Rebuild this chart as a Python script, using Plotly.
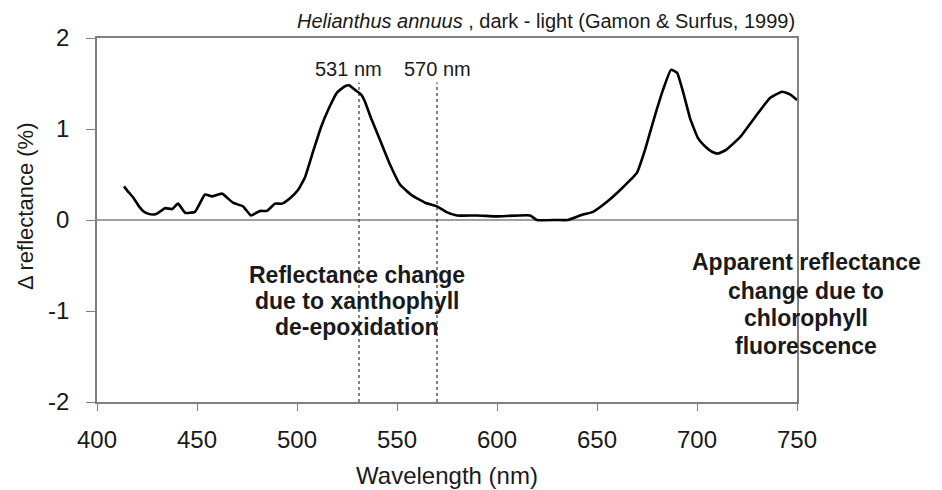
import plotly.graph_objects as go

wavelength = [413.5, 416, 418, 421, 423, 425.5, 428.5, 430, 434, 437.5, 440.5, 444, 449, 454, 457.5,
              462.5, 468, 473, 477, 481.5, 485, 489, 492.5, 496.5, 500.5, 504, 508, 512, 516, 520,
              524, 526, 529, 532, 534, 537, 541.5, 546.5, 551.5, 557.5, 564, 570, 574.5, 580, 590,
              600, 616.5, 620, 630, 635.5, 643, 648, 655, 663, 670, 674, 679, 683, 687, 690, 693.5,
              696.5, 700.5, 704.5, 707.5, 710.5, 714.5, 721.5, 729, 736.5, 742.5, 746.5, 750]
delta_refl = [0.37, 0.30, 0.25, 0.15, 0.10, 0.07, 0.06, 0.07, 0.13, 0.12, 0.18, 0.08, 0.09, 0.28, 0.26,
              0.29, 0.19, 0.15, 0.05, 0.10, 0.10, 0.18, 0.18, 0.24, 0.33, 0.47, 0.75, 1.02, 1.23, 1.40,
              1.47, 1.48, 1.43, 1.38, 1.30, 1.12, 0.88, 0.61, 0.39, 0.27, 0.19, 0.15, 0.09, 0.05, 0.05,
              0.04, 0.05, 0.0, 0.0, 0.0, 0.06, 0.09, 0.20, 0.36, 0.52, 0.77, 1.15, 1.43, 1.65, 1.62, 1.37,
              1.12, 0.90, 0.80, 0.75, 0.73, 0.77, 0.91, 1.13, 1.34, 1.41, 1.38, 1.32]

marker_wl = [531, 570]
marker_labels = ["531 nm", "570 nm"]
x_ticks = [400, 450, 500, 550, 600, 650, 700, 750]
y_ticks = [-2, -1, 0, 1, 2]
y_ticktext = ["-2", "-1", "0", "1", "2"]
left_note = ["Reflectance change", "due to xanthophyll", "de-epoxidation"]
right_note = ["Apparent reflectance", "change due to", "chlorophyll", "fluorescence"]

FONT = "Liberation Sans, Arial, sans-serif"
TXT = "#1a1a1a"

fig = go.Figure()

for wl in marker_wl:
    fig.add_trace(go.Scatter(x=[wl, wl], y=[-2, 1.51], mode="lines",
                             line=dict(color="#333333", width=1.2, dash="3px,3px"),
                             showlegend=False, hoverinfo="skip"))

fig.add_trace(go.Scatter(x=wavelength, y=delta_refl, mode="lines",
                         line=dict(color="black", width=2.6, shape="spline", smoothing=0.4),
                         showlegend=False))

fig.add_hline(y=0, line=dict(color="#808080", width=1.5), layer="below")

annotations = []
label_x = [525.5, 570]
for lx, lab in zip(label_x, marker_labels):
    annotations.append(dict(x=lx, y=1.66, xref="x", yref="y", text=lab, showarrow=False,
                            xanchor="center", font=dict(family=FONT, size=20, color=TXT)))

left_y = [-0.60, -0.89, -1.18]
for t, yy in zip(left_note, left_y):
    annotations.append(dict(x=(530 - 400) / 350, y=yy, xref="paper", yref="y", text="<b>%s</b>" % t,
                            xanchor="center", showarrow=False, font=dict(family=FONT, size=23, color=TXT)))
right_y = [-0.46, -0.78, -1.08, -1.39]
for t, yy in zip(right_note, right_y):
    annotations.append(dict(x=(754.5 - 400) / 350, y=yy, xref="paper", yref="y", text="<b>%s</b>" % t,
                            xanchor="center", showarrow=False, font=dict(family=FONT, size=23, color=TXT)))

annotations.append(dict(x=1.0, y=1.047, xref="paper", yref="paper", xanchor="right", yanchor="middle",
                        text="<i>Helianthus annuus</i> , dark - light (Gamon & Surfus, 1999)",
                        showarrow=False, font=dict(family=FONT, size=20, color=TXT)))

# y-axis title placed as rotated annotation
annotations.append(dict(x=-0.103, y=0.538, xref="paper", yref="paper", xanchor="center", yanchor="middle",
                        text="Δ reflectance (%)", textangle=-90, showarrow=False,
                        font=dict(family=FONT, size=22, color=TXT)))

fig.update_layout(
    width=942, height=490,
    margin=dict(l=97, r=145, t=38, b=88, autoexpand=False),
    plot_bgcolor="white", paper_bgcolor="white",
    annotations=annotations,
    font=dict(family=FONT, color=TXT),
)
fig.update_xaxes(range=[400, 750], tickvals=x_ticks, ticks="outside", ticklen=7,
                 tickcolor="#808080", showline=True, linecolor="#808080", linewidth=1.5,
                 mirror=True, showgrid=False, zeroline=False, ticklabelstandoff=8, automargin=False,
                 tickfont=dict(family=FONT, size=24, color=TXT),
                 title=dict(text="Wavelength (nm)", font=dict(family=FONT, size=24, color=TXT), standoff=16))
fig.update_yaxes(range=[-2, 2], tickvals=y_ticks, ticktext=y_ticktext, ticks="outside", ticklen=9,
                 tickcolor="#808080", showline=True, linecolor="#808080", linewidth=1.5,
                 mirror=True, showgrid=False, zeroline=False, ticklabelstandoff=12, automargin=False,
                 tickfont=dict(family=FONT, size=24, color=TXT))

fig.write_html("out.html")
